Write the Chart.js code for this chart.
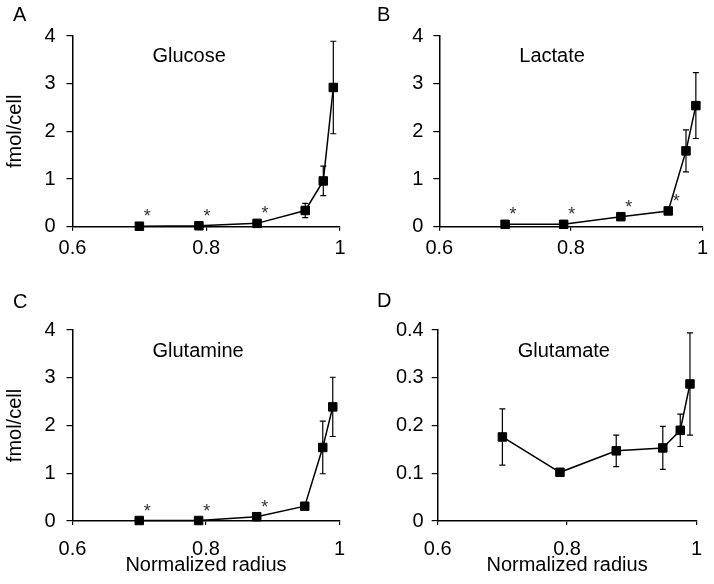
<!DOCTYPE html>
<html>
<head>
<meta charset="utf-8">
<script src="https://cdn.jsdelivr.net/npm/chart.js@4.4.1/dist/chart.umd.min.js"></script>
<style>
  body { margin: 0; background: #fff; }
  #wrap { position: relative; width: 714px; height: 584px; }
  canvas { position: absolute; }
</style>
</head>
<body>
<div id="wrap">
  <canvas id="chartA" width="357" height="292" style="left:0;top:0"></canvas>
  <canvas id="chartB" width="357" height="292" style="left:357px;top:0"></canvas>
  <canvas id="chartC" width="357" height="292" style="left:0;top:292px"></canvas>
  <canvas id="chartD" width="357" height="292" style="left:357px;top:292px"></canvas>
</div>
<script>
// radio normalizado (eje x, comun a los cuatro paneles)
const radius = [0.700, 0.789, 0.876, 0.948, 0.975, 0.990];

// valores en fmol/cell y su error
const glucose = [0.01, 0.02, 0.07, 0.34, 0.96, 2.92];
const glucoseErr = [0, 0, 0.03, 0.15, 0.31, 0.97];
const lactate = [0.05, 0.05, 0.21, 0.33, 1.59, 2.54];
const lactateErr = [0, 0, 0.03, 0.03, 0.44, 0.69];
const glutamine = [0.01, 0.01, 0.09, 0.31, 1.54, 2.39];
const glutamineErr = [0, 0, 0.02, 0.03, 0.55, 0.62];
const glutamate = [0.176, 0.102, 0.147, 0.153, 0.190, 0.287];
const glutamateErr = [0.059, 0.008, 0.033, 0.045, 0.034, 0.107];

// puntos marcados con asterisco (indices)
const glucoseStars = [0, 1, 2];
const lactateStars = [0, 1, 2, 3];
const glutamineStars = [0, 1, 2];
const glutamateStars = [];

const xTicks = [0.6, 0.8, 1];
const FONT = 'Liberation Sans, Arial, sans-serif';

// formato corto: 1 en vez de 1.0
const fmt = v => String(Number(v.toFixed(2)));

// Plugin: barras de error, asteriscos, titulo interior y letra del panel
const extras = {
  id: 'extras',
  beforeDatasetsDraw(chart, args, o) {
    const ctx = chart.ctx;
    const xs = chart.scales.x, ys = chart.scales.y;
    ctx.save();
    ctx.strokeStyle = '#000';
    ctx.lineWidth = 1.2;
    o.values.forEach((v, i) => {
      const e = o.errors[i];
      if (!e) return;
      const x = xs.getPixelForValue(radius[i]);
      const y1 = ys.getPixelForValue(v + e);
      const y2 = ys.getPixelForValue(v - e);
      ctx.beginPath();
      ctx.moveTo(x, y1); ctx.lineTo(x, y2);
      ctx.moveTo(x - 3, y1); ctx.lineTo(x + 3, y1);
      ctx.moveTo(x - 3, y2); ctx.lineTo(x + 3, y2);
      ctx.stroke();
    });
    ctx.restore();
  },
  afterDatasetsDraw(chart, args, o) {
    const ctx = chart.ctx;
    const xs = chart.scales.x, ys = chart.scales.y;
    const area = chart.chartArea;
    ctx.save();
    ctx.fillStyle = '#333';
    ctx.font = '18px ' + FONT;
    ctx.textAlign = 'center';
    ctx.textBaseline = 'alphabetic';
    o.stars.forEach(i => {
      const x = xs.getPixelForValue(radius[i]);
      const y = ys.getPixelForValue(o.values[i]);
      ctx.fillText('*', x + 8, y - 4);
    });
    ctx.fillStyle = '#000';
    ctx.font = '20px ' + FONT;
    ctx.textAlign = 'left';
    ctx.textBaseline = 'middle';
    ctx.fillText(o.title, area.left + 80, area.top + o.titleDy);
    ctx.textBaseline = 'alphabetic';
    ctx.fillText(o.letter, o.letterX, o.letterY);
    ctx.restore();
  }
};

function makeChart(id, cfg) {
  const ctx = document.getElementById(id).getContext('2d');
  return new Chart(ctx, {
    type: 'line',
    data: {
      datasets: [{
        data: radius.map((r, i) => ({ x: r, y: cfg.values[i] })),
        borderColor: '#000',
        borderWidth: 1.5,
        backgroundColor: '#000',
        pointStyle: 'rect',
        pointRadius: 6,
        pointBorderWidth: 1,
        pointBorderColor: '#000',
        tension: 0,
        clip: false
      }]
    },
    options: {
      responsive: false,
      animation: false,
      events: [],
      layout: { padding: { left: 0, top: cfg.top, right: cfg.right, bottom: 0 } },
      plugins: {
        legend: { display: false },
        tooltip: { enabled: false },
        extras: {
          values: cfg.values, errors: cfg.errors, stars: cfg.stars,
          title: cfg.title, titleDy: cfg.titleDy,
          letter: cfg.letter, letterX: cfg.letterX, letterY: cfg.letterY
        }
      },
      scales: {
        x: {
          type: 'linear',
          min: 0.6, max: 1,
          afterFit: s => { s.height = cfg.xHeight; },
          afterBuildTicks: s => { s.ticks = xTicks.map(v => ({ value: v })); },
          grid: { display: true, drawOnChartArea: false, drawTicks: true, tickLength: 4, color: '#000', lineWidth: 1.2 },
          border: { display: true, color: '#000', width: 1.5 },
          ticks: { color: '#000', font: { family: FONT, size: 20 }, padding: cfg.xPad, maxRotation: 0, callback: fmt },
          title: { display: cfg.xTitle, text: 'Normalized radius', color: '#000', font: { family: FONT, size: 20 }, padding: { top: 0, bottom: 7 } }
        },
        y: {
          min: 0, max: cfg.yMax,
          afterFit: s => { s.width = cfg.yWidth; },
          grid: { display: true, drawOnChartArea: false, drawTicks: true, tickLength: 6, color: '#000', lineWidth: 1.2 },
          border: { display: true, color: '#000', width: 1.5 },
          ticks: { stepSize: cfg.yStep, color: '#000', font: { family: FONT, size: 20 }, padding: cfg.yPad, callback: fmt },
          title: { display: cfg.yTitle, text: 'fmol/cell', color: '#000', font: { family: FONT, size: 20 }, padding: { top: 3, bottom: 0 } }
        }
      }
    },
    plugins: [extras]
  });
}

makeChart('chartA', {
  values: glucose, errors: glucoseErr, stars: glucoseStars,
  title: 'Glucose', titleDy: 20, letter: 'A', letterX: 13, letterY: 21,
  top: 36, right: 17, yWidth: 72.5, xHeight: 65.3, yMax: 4, yStep: 1,
  xPad: 6, yPad: 11, xTitle: false, yTitle: true
});
makeChart('chartB', {
  values: lactate, errors: lactateErr, stars: lactateStars,
  title: 'Lactate', titleDy: 20, letter: 'B', letterX: 20, letterY: 21,
  top: 36, right: 9, yWidth: 82.3, xHeight: 65.3, yMax: 4, yStep: 1,
  xPad: 6, yPad: 10, xTitle: false, yTitle: false
});
makeChart('chartC', {
  values: glutamine, errors: glutamineErr, stars: glutamineStars,
  title: 'Glutamine', titleDy: 21, letter: 'C', letterX: 13, letterY: 16,
  top: 38, right: 17, yWidth: 72.5, xHeight: 63, yMax: 4, yStep: 1,
  xPad: 12, yPad: 11, xTitle: true, yTitle: true
});
makeChart('chartD', {
  values: glutamate, errors: glutamateErr, stars: glutamateStars,
  title: 'Glutamate', titleDy: 21, letter: 'D', letterX: 20, letterY: 15,
  top: 38, right: 9, yWidth: 80.7, xHeight: 63, yMax: 0.4, yStep: 0.1,
  xPad: 12, yPad: 8, xTitle: true, yTitle: false
});
</script>
</body>
</html>
